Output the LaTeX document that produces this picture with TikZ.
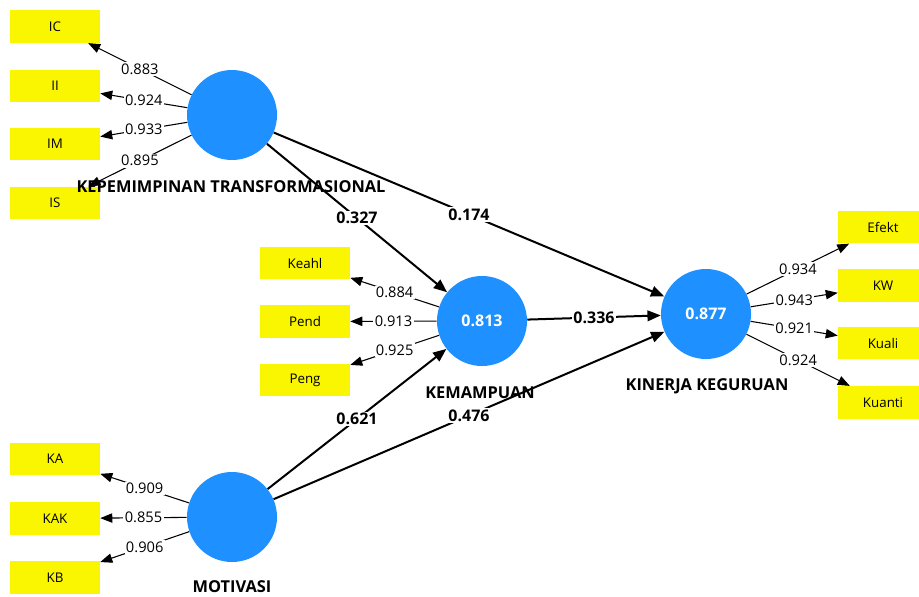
\documentclass[tikz,border=0pt]{standalone}
\usepackage{fontspec}
\setmainfont{Open Sans}
\usepackage{tikz}
\usetikzlibrary{positioning, arrows.meta}
\definecolor{LvBlue}{RGB}{30,144,255}
\definecolor{IndYellow}{RGB}{250,245,0}
\tikzset{
  lv/.style={circle, fill=LvBlue, draw=none, minimum size=67.5pt, inner sep=0pt,
    text=white, font=\fontsize{12}{14}\selectfont\bfseries},
  ind/.style={fill=IndYellow, draw=none, minimum width=67.5pt, minimum height=24.5pt,
    inner sep=0pt, font=\fontsize{10}{12}\selectfont},
  lvlab/.style={font=\fontsize{12.3}{14}\selectfont\bfseries, inner sep=0pt},
  load/.style={-{Triangle[length=9pt, width=7pt]}, line width=0.8pt},
  pth/.style={-{Triangle[length=10pt, width=8pt]}, line width=1.5pt},
  val/.style={midway, fill=white, inner sep=1pt, font=\fontsize{11}{13}\selectfont},
  pval/.style={midway, fill=white, inner sep=1pt, font=\fontsize{12}{14}\selectfont\bfseries},
}

\begin{document}
\begin{tikzpicture}[x=0.75pt, y=-0.75pt]
  \useasboundingbox (0,0) rectangle (919,596);
  % latent variables
  \node[lv] (KT) at (232,115) {};
  \node[lv] (KEM) at (482,321) {0.813};
  \node[lv] (KK) at (706,314) {0.877};
  \node[lv] (MOT) at (232,517) {};
  % structural paths
  \draw[pth] (KT) -- (KEM) node[pval] {0.327};
  \draw[pth] (KT) -- (KK) node[pval] {0.174};
  \draw[pth] (KEM) -- (KK) node[pval] {0.336};
  \draw[pth] (MOT) -- (KEM) node[pval] {0.621};
  \draw[pth] (MOT) -- (KK) node[pval] {0.476};
  % indicators
  \foreach \n/\y/\v in {IC/26.5/0.883, II/86/0.924, IM/144/0.933, IS/203/0.895} {
    \node[ind] (\n) at (55,\y) {\n};
    \draw[load] (KT) -- (\n) node[val] {\v};
  }
  \foreach \n/\y/\v in {Keahl/263/0.884, Pend/321.5/0.913, Peng/380/0.925} {
    \node[ind] (\n) at (305,\y) {\n};
    \draw[load] (KEM) -- (\n) node[val] {\v};
  }
  \foreach \n/\y/\v in {Efekt/227/0.934, KW/285.5/0.943, Kuali/343/0.921, Kuanti/402.5/0.924} {
    \node[ind] (\n) at (883,\y) {\n};
    \draw[load] (KK) -- (\n) node[val] {\v};
  }
  \foreach \n/\y/\v in {KA/459/0.909, KAK/518.5/0.855, KB/577.5/0.906} {
    \node[ind] (\n) at (55,\y) {\n};
    \draw[load] (MOT) -- (\n) node[val] {\v};
  }
  % construct names
  \node[lvlab] (KTlab) at (231,187) {KEPEMIMPINAN TRANSFORMASIONAL};
  \node[lvlab] (KEMlab) at (480,393) {KEMAMPUAN};
  \node[lvlab] (KKlab) at (707,386) {KINERJA KEGURUAN};
  \node[lvlab] (MOTlab) at (232,587) {MOTIVASI};
\end{tikzpicture}
\end{document}
